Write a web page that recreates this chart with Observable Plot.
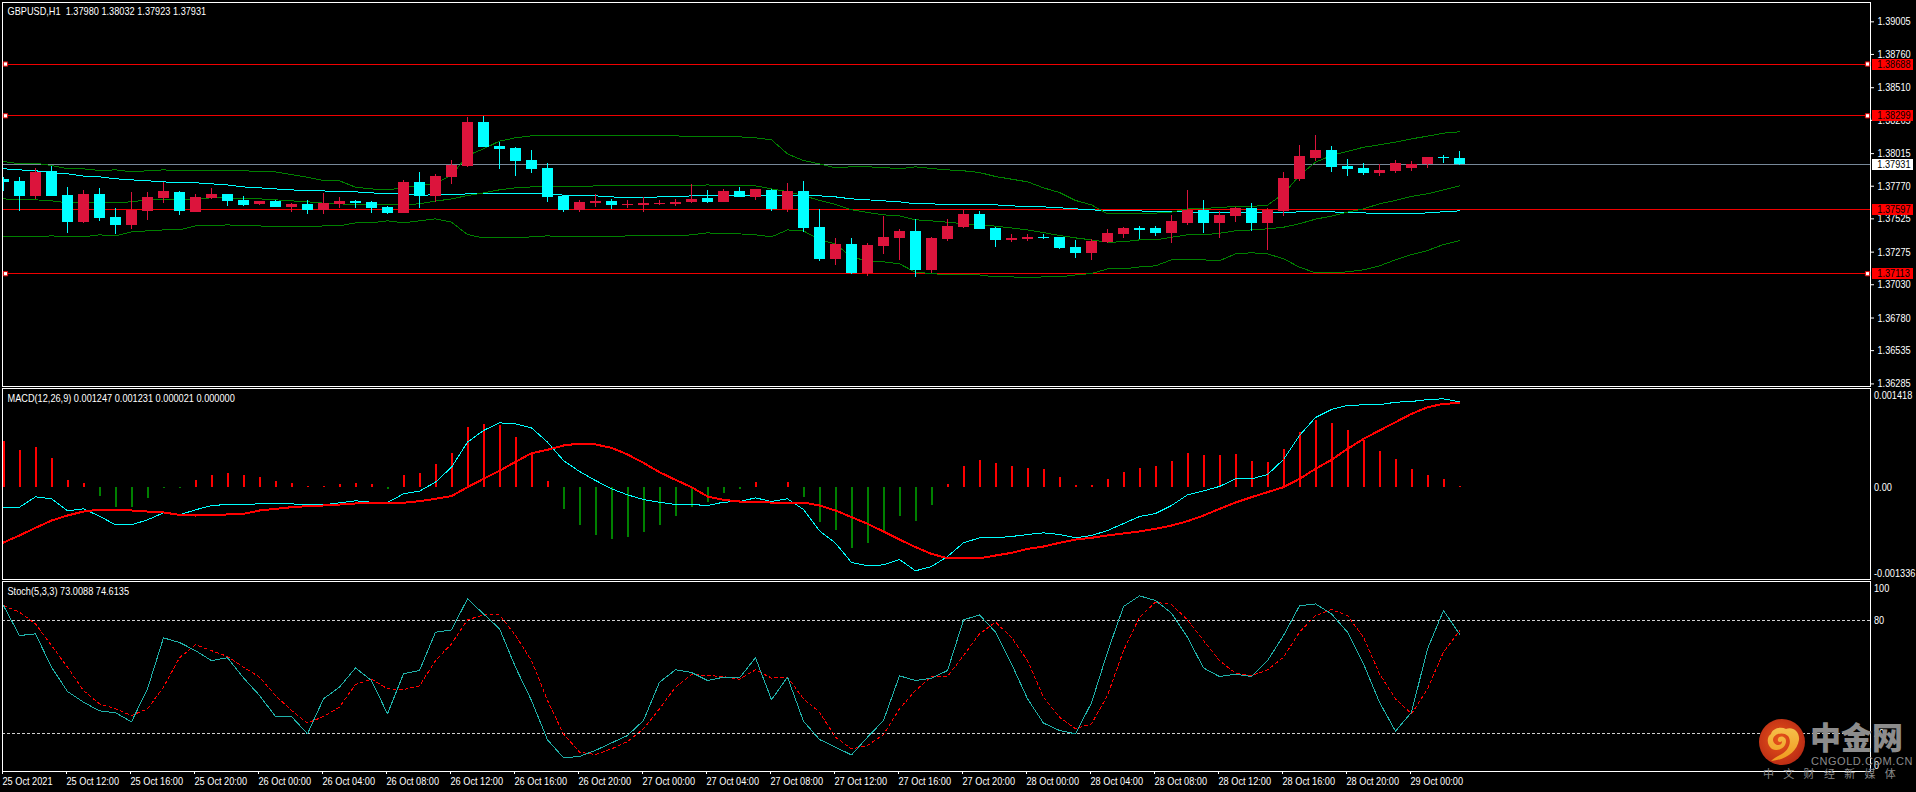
<!DOCTYPE html>
<html><head><meta charset="utf-8">
<script src="https://cdn.jsdelivr.net/npm/d3@7"></script>
<script src="https://cdn.jsdelivr.net/npm/@observablehq/plot@0.6"></script>
<style>
html,body{margin:0;padding:0;background:#000;overflow:hidden;width:1916px;height:792px}
#wrap{position:relative;width:1916px;height:792px}
#wrap svg{display:block;background:transparent}
#wm{position:absolute;left:0;top:0;pointer-events:none}
</style></head><body><div id="wrap"></div>
<script>
// ---------- data (prices in 1/100000) ----------
const opens=[137821,137806,137693,137881,137700,137498,137708,137535,137475,137580,137678,137723,137573,137678,137708,137662,137633,137655,137610,137633,137588,137633,137655,137648,137610,137565,137798,137693,137836,137918,138249,138068,138053,137963,137903,137693,137588,137640,137655,137625,137625,137633,137633,137648,137678,137648,137730,137685,137738,137595,137730,137460,137220,137332,137114,137317,137377,137430,137137,137370,137460,137558,137452,137362,137370,137385,137385,137310,137265,137347,137407,137452,137452,137415,137490,137588,137490,137543,137603,137490,137580,137821,137978,138038,137918,137903,137866,137881,137903,137933,137986,137980];
const highs=[137836,137836,137903,137918,137760,137738,137753,137603,137723,137723,137798,137730,137708,137753,137708,137693,137655,137662,137640,137662,137715,137685,137662,137655,137618,137813,137873,137858,137963,138286,138294,138098,138061,138038,137941,137700,137662,137708,137670,137662,137685,137662,137670,137783,137738,137745,137760,137745,137745,137791,137806,137595,137377,137377,137340,137543,137445,137520,137385,137520,137588,137580,137460,137407,137407,137407,137385,137362,137370,137445,137460,137467,137467,137550,137738,137662,137580,137610,137640,137603,137873,138076,138151,138068,137971,137941,137933,137963,137956,137986,138001,138032];
const lows=[137730,137580,137670,137693,137415,137490,137505,137407,137445,137513,137640,137550,137573,137670,137618,137618,137625,137610,137573,137558,137558,137603,137603,137565,137558,137565,137603,137648,137783,137911,138061,137896,137843,137866,137648,137573,137573,137610,137595,137603,137573,137625,137618,137640,137640,137648,137685,137662,137580,137573,137422,137205,137175,137107,137092,137257,137212,137084,137114,137355,137452,137445,137310,137347,137355,137370,137295,137227,137212,137340,137377,137370,137392,137340,137475,137415,137377,137498,137430,137287,137543,137806,137956,137873,137843,137851,137843,137866,137881,137903,137941,137923];
const closes=[137798,137693,137873,137693,137498,137708,137528,137475,137588,137685,137730,137580,137685,137708,137655,137625,137655,137610,137633,137588,137640,137655,137640,137603,137565,137798,137693,137843,137926,138249,138061,138046,137956,137896,137685,137588,137648,137655,137625,137633,137640,137640,137648,137670,137648,137730,137685,137745,137595,137730,137452,137220,137332,137114,137325,137385,137430,137137,137377,137467,137558,137445,137362,137377,137385,137377,137302,137265,137355,137415,137452,137437,137415,137505,137588,137490,137550,137603,137490,137588,137828,137993,138038,137911,137896,137866,137888,137941,137933,137986,137978,137931];
const bbUpper=[137956,137938,137943,137926,137901,137901,137888,137893,137878,137886,137893,137886,137886,137886,137886,137886,137881,137878,137858,137838,137813,137811,137763,137750,137743,137758,137775,137793,137851,138001,138051,138109,138134,138149,138149,138149,138149,138149,138149,138149,138149,138149,138149,138141,138141,138141,138141,138134,138119,138013,137963,137938,137908,137916,137916,137911,137901,137916,137903,137893,137886,137873,137843,137823,137803,137758,137723,137663,137630,137563,137563,137563,137568,137575,137600,137600,137613,137615,137618,137628,137713,137851,137951,138001,138031,138063,138081,138101,138126,138146,138169,138179];
const bbMiddle=[137675,137668,137668,137660,137645,137645,137645,137645,137653,137668,137668,137668,137675,137683,137683,137675,137675,137668,137660,137653,137643,137638,137630,137630,137630,137630,137638,137658,137675,137700,137720,137743,137758,137765,137765,137765,137765,137773,137773,137773,137773,137773,137773,137773,137780,137773,137773,137773,137750,137730,137700,137663,137633,137593,137573,137555,137548,137518,137510,137500,137488,137480,137470,137457,137442,137422,137400,137382,137367,137350,137352,137367,137367,137387,137405,137405,137417,137435,137442,137450,137462,137488,137523,137545,137575,137600,137638,137663,137693,137713,137743,137773];
const bbLower=[137390,137390,137390,137397,137390,137390,137405,137397,137427,137435,137442,137442,137472,137472,137480,137472,137472,137465,137465,137465,137472,137472,137495,137495,137510,137495,137510,137525,137500,137407,137382,137382,137382,137390,137397,137390,137390,137390,137390,137397,137397,137397,137397,137405,137420,137412,137412,137405,137390,137442,137435,137367,137337,137237,137210,137202,137187,137124,137114,137104,137104,137104,137089,137089,137082,137089,137089,137104,137114,137149,137149,137164,137172,137217,137217,137217,137210,137262,137270,137262,137225,137162,137119,137119,137127,137142,137172,137217,137257,137287,137332,137362];
const movingAvg=[137901,137893,137886,137873,137863,137846,137841,137826,137818,137811,137803,137796,137796,137788,137780,137765,137758,137750,137743,137735,137735,137728,137728,137720,137713,137713,137703,137705,137705,137713,137713,137713,137713,137713,137713,137703,137698,137698,137690,137683,137683,137690,137690,137698,137698,137698,137703,137703,137703,137703,137703,137698,137690,137675,137668,137660,137653,137638,137638,137630,137630,137630,137630,137623,137615,137615,137608,137600,137593,137585,137585,137585,137578,137578,137578,137570,137570,137570,137570,137570,137570,137578,137578,137578,137570,137570,137563,137563,137563,137570,137578,137585];
// MACD values in millionths
const macdHist=[670,539,583,423,102,58,-136,-291,-291,-160,-15,-15,102,175,204,175,146,87,58,15,15,44,58,44,-29,175,204,335,495,874,918,903,729,495,87,-321,-554,-699,-758,-729,-656,-554,-423,-291,-219,-87,-29,73,5,73,-146,-510,-627,-889,-816,-641,-423,-495,-262,44,306,393,350,306,277,262,146,29,29,117,219,277,306,379,495,466,466,481,379,364,554,801,976,933,831,685,525,408,262,175,117,21];
const macdMain=[-287,-287,-136,-165,-340,-311,-418,-544,-544,-471,-369,-398,-325,-262,-248,-248,-238,-238,-238,-253,-253,-223,-194,-214,-219,-92,-53,78,296,661,831,942,928,869,661,393,233,102,-19,-107,-175,-214,-248,-248,-262,-214,-204,-151,-204,-165,-321,-631,-811,-1093,-1141,-1127,-1049,-1214,-1151,-1005,-806,-733,-733,-714,-685,-661,-685,-733,-699,-627,-525,-423,-379,-262,-107,-49,15,126,126,189,408,758,1020,1137,1195,1205,1205,1243,1253,1282,1292,1247];
const macdSignal=[-801,-699,-588,-481,-408,-350,-321,-321,-335,-350,-364,-398,-408,-398,-393,-384,-335,-311,-287,-272,-262,-248,-233,-233,-233,-223,-199,-165,-126,5,126,243,374,500,549,612,641,627,578,481,359,223,112,5,-131,-180,-204,-214,-219,-219,-219,-262,-335,-432,-529,-641,-758,-869,-967,-1030,-1030,-1030,-991,-952,-894,-860,-806,-758,-733,-699,-670,-641,-602,-554,-491,-408,-311,-219,-141,-68,5,126,272,403,563,709,831,952,1073,1170,1219,1231];
const stochK=[88.1,72.2,73.1,55.4,42.5,36.8,32.2,31.2,26.4,43.9,71.0,68.5,64.2,58.9,60.4,49.7,40.4,29.2,29.2,20.0,38.6,44.8,55.0,48.3,30.6,51.9,53.6,74.0,75.2,91.7,83.7,75.8,55.4,37.7,16.8,7.3,8.0,11.2,15.2,19.1,27.1,47.4,54.0,52.6,48.3,50.1,49.7,60.4,38.1,50.1,26.7,17.0,12.9,8.8,18.2,27.1,50.8,48.3,49.6,53.6,80.5,83.2,74.0,57.2,38.6,25.7,21.8,20.0,36.5,63.4,87.6,93.3,90.8,84.1,71.3,55.0,50.4,51.7,50.4,58.9,72.2,88.0,89.0,83.7,74.0,57.2,36.8,21.4,31.5,65.1,85.5,73.0088];
const stochD=[88.1,84.6,78.4,66.9,55.4,43.0,35.9,33.3,29.7,33.3,44.8,60.4,67.3,64.2,61.1,55.4,50.1,40.4,32.4,25.7,29.2,34.2,46.2,49.0,43.9,43.5,45.5,58.9,67.8,80.5,83.2,83.2,72.2,58.9,37.7,20.0,10.3,9.0,12.0,15.9,22.7,33.3,44.8,51.5,51.0,50.4,49.0,54.0,49.6,50.1,38.6,31.5,18.2,12.0,13.8,19.6,33.3,43.0,50.4,50.4,61.6,73.1,79.3,71.3,58.9,39.5,28.8,22.7,25.3,40.4,64.2,81.9,89.9,88.7,80.5,69.6,58.9,52.2,50.8,54.0,60.7,74.0,82.8,86.0,82.8,71.3,51.9,38.6,30.6,43.9,63.4,74.6135];
const priceTicks=[1.39005,1.3876,1.3851,1.38265,1.38015,1.3777,1.37525,1.37275,1.3703,1.3678,1.36535,1.36285];
const redLevels=[1.38688,1.38299,1.37597,1.37113];
const anchoredLevels=[1.38688,1.38299,1.37113];
const lastPrice=1.37931;
const timeIndex=[0,4,8,12,16,20,24,28,32,36,40,44,48,52,56,60,64,68,72,76,80,84,88];
const timeLabels=["25 Oct 2021","25 Oct 12:00","25 Oct 16:00","25 Oct 20:00","26 Oct 00:00","26 Oct 04:00","26 Oct 08:00","26 Oct 12:00","26 Oct 16:00","26 Oct 20:00","27 Oct 00:00","27 Oct 04:00","27 Oct 08:00","27 Oct 12:00","27 Oct 16:00","27 Oct 20:00","28 Oct 00:00","28 Oct 04:00","28 Oct 08:00","28 Oct 12:00","28 Oct 16:00","28 Oct 20:00","29 Oct 00:00"];
const mainTitle="GBPUSD,H1  1.37980 1.38032 1.37923 1.37931";
const macdTitle="MACD(12,26,9) 0.001247 0.001231 0.000021 0.000000";
const stochTitle="Stoch(5,3,3) 73.0088 74.6135";
const stochLevels=[80,20];
const macdTickValues=[0.001418,0,-0.001336];
const macdTickTexts=["0.001418","0.00","-0.001336"];
const stochTickValues=[100,80,20,0];
const stochTickTexts=["100","80","20","0"];

// ---------- build tables ----------
const n=opens.length, idx=d3.range(n);
const candles=idx.map(i=>({i,o:opens[i]/1e5,h:highs[i]/1e5,l:lows[i]/1e5,c:closes[i]/1e5}));
const pts=a=>a.map((v,i)=>({i,v:v/1e5}));
const mic=a=>a.map((v,i)=>({i,v:v/1e6}));
const raw=a=>a.map((v,i)=>({i,v}));

// ---------- shared look ----------
const font="'Liberation Sans',sans-serif";
const W=1916, xDomain=[-0.0625,116.6875], xEdge=116.6875;
const tagX1=116.8, tagX2=119.4, anchorXs=[0.125,116.5];
const base={width:W,marginLeft:2,marginRight:46,style:{background:"#000",color:"#fff",fontFamily:font,fontSize:"11px",overflow:"visible"},x:{domain:xDomain,axis:null}};
const crisp={shapeRendering:"crispEdges"};
const title=(t,dy)=>Plot.text([t],{text:d=>d,frameAnchor:"top-left",dx:5,dy,fill:"#fff",fontSize:11,lineAnchor:"middle"});
const yAxis=(ticks,fmt,extra={})=>Plot.axisY({anchor:"right",ticks,tickFormat:fmt,tickSize:3,tickPadding:3,textAnchor:"start",stroke:"#fff",fill:"#fff",label:null,...extra});
const line=(d,stroke,w,extra={})=>Plot.line(d,{x:"i",y:"v",stroke,strokeWidth:w,curve:"linear",...crisp,...extra});
const sideLabel=(v,t,dy)=>Plot.text([v],{x:xEdge,y:d=>d,text:()=>t,dy,dx:3.5,textAnchor:"start",fill:"#fff",fontSize:11});

// ---------- price panel ----------
const price=Plot.plot({...base,height:387,marginTop:2,marginBottom:1,
 y:{domain:[1.362656,1.391502],axis:null},
 marks:[
  Plot.ruleY([lastPrice],{stroke:"#778899",strokeWidth:1,...crisp}),
  Plot.ruleY(redLevels,{stroke:"#f00000",strokeWidth:1,...crisp}),
  line(pts(movingAvg),"#00ffff",1,{clip:true}),
  line(pts(bbUpper),"#008000",1),
  line(pts(bbMiddle),"#008000",1),
  line(pts(bbLower),"#008000",1),
  Plot.ruleX(candles,{x:"i",y1:"l",y2:"h",stroke:d=>d.c>=d.o?"#dc143c":"#00ffff",strokeWidth:1,clip:true,...crisp}),
  Plot.ruleX(candles,{x:"i",y1:"o",y2:"c",stroke:d=>d.c>=d.o?"#dc143c":"#00ffff",strokeWidth:11,clip:true,...crisp}),
  Plot.frame({stroke:"#fff",strokeWidth:1,...crisp}),
  yAxis(priceTicks,d=>d.toFixed(5),{tickPadding:4}),
  Plot.ruleY(redLevels,{x1:tagX1,x2:tagX2,stroke:"#ff0000",strokeWidth:11,...crisp}),
  Plot.ruleY([lastPrice],{x1:tagX1,x2:tagX2,stroke:"#ffffff",strokeWidth:11,...crisp}),
  Plot.text(redLevels,{x:tagX1,y:d=>d,text:d=>d.toFixed(5),textAnchor:"start",dx:5,fill:"#000",fontSize:11}),
  Plot.text([lastPrice],{x:tagX1,y:d=>d,text:d=>d.toFixed(5),textAnchor:"start",dx:5,fill:"#000",fontSize:11}),
  Plot.dot(anchoredLevels.flatMap(p=>anchorXs.map(a=>({a,p}))),{x:"a",y:"p",symbol:"square",r:2.4,fill:"#fff",stroke:"#e00000",strokeWidth:1}),
  title(mainTitle,9)
 ]});

// ---------- MACD panel ----------
const macd=Plot.plot({...base,height:193,marginTop:1,marginBottom:1,
 y:{domain:[-0.0013404,0.0014425],axis:null},
 marks:[
  Plot.ruleX(mic(macdHist),{x:"i",y1:0,y2:"v",stroke:d=>d.v>=0?"#ff0000":"#008000",strokeWidth:2,...crisp}),
  line(mic(macdMain),"#00ffff",1),
  line(mic(macdSignal),"#ff0000",2),
  Plot.frame({stroke:"#fff",strokeWidth:1,...crisp}),
  sideLabel(macdTickValues[0],macdTickTexts[0],5),
  sideLabel(macdTickValues[1],macdTickTexts[1],0),
  sideLabel(macdTickValues[2],macdTickTexts[2],-6),
  title(macdTitle,10)
 ]});

// ---------- Stochastic panel ----------
const stoch=Plot.plot({...base,height:212,marginTop:1,marginBottom:21,
 y:{domain:[0,100.9],axis:null},
 marks:[
  Plot.ruleY(stochLevels,{stroke:"#d0d0d0",strokeWidth:1,strokeDasharray:"3,2",...crisp}),
  line(raw(stochD),"#ff0000",1,{strokeDasharray:"3,3"}),
  line(raw(stochK),"#20b2aa",1),
  Plot.frame({stroke:"#fff",strokeWidth:1,...crisp}),
  sideLabel(stochTickValues[0],stochTickTexts[0],5),
  sideLabel(stochTickValues[1],stochTickTexts[1],0),
  sideLabel(stochTickValues[2],stochTickTexts[2],0),
  sideLabel(stochTickValues[3],stochTickTexts[3],-6),
  Plot.axisX({anchor:"bottom",ticks:timeIndex,tickFormat:i=>timeLabels[timeIndex.indexOf(i)],tickSize:3,tickPadding:3,textAnchor:"start",dx:-1,stroke:"#fff",fill:"#fff",label:null,fontSize:11}),
  title(stochTitle,10)
 ]});

const wrap=document.getElementById("wrap");
[price,macd,stoch].forEach(s=>wrap.appendChild(s));

// narrow the axis and header text to the tall, condensed face of the original
wrap.querySelectorAll("svg text").forEach(t=>{
  const len=t.getComputedTextLength();
  t.setAttribute("textLength",(len*0.835).toFixed(1));
  t.setAttribute("lengthAdjust","spacingAndGlyphs");
});

// ---------- watermark ----------
const cjk="'Noto Sans CJK SC','Noto Sans',sans-serif";
wrap.insertAdjacentHTML("beforeend",`<svg id="wm" width="1916" height="792" xmlns="http://www.w3.org/2000/svg">
 <defs><radialGradient id="lg" cx="45%" cy="45%" r="60%"><stop offset="0" stop-color="#e8541a"/><stop offset="1" stop-color="#b92a14"/></radialGradient>
 <linearGradient id="ly" x1="0" y1="0" x2="0" y2="1"><stop offset="0" stop-color="#f5c04a"/><stop offset="1" stop-color="#f09a1e"/></linearGradient></defs>
 <circle cx="1782" cy="742" r="23" fill="url(#lg)"/>
 <path d="M1771 761 C1785 760 1797 752 1799 740 C1800 731 1792 726 1786 729 C1780 726 1772 729 1771 734 C1766 737 1767 746 1772 749 C1778 752 1786 748 1786 741 C1786 736 1779 735 1778 739 C1777 742 1781 743 1782 741 C1783 746 1774 747 1773 740 C1773 734 1783 731 1788 736 C1793 743 1787 752 1780 755 C1776 757 1773 759 1771 761 Z" fill="url(#ly)"/>
 <text x="1810" y="749" font-family="${cjk}" font-size="31" font-weight="900" fill="#8c8c8c">中金网</text>
 <text x="1811" y="765" font-family="'Liberation Sans',sans-serif" font-size="11" letter-spacing="0.55" fill="#8a8a8a">CNGOLD.COM.CN</text>
 <text x="1763" y="778" font-family="${cjk}" font-size="11" letter-spacing="9.3" fill="#8a8a8a">中文财经新媒体</text>
</svg>`);
</script></body></html>
